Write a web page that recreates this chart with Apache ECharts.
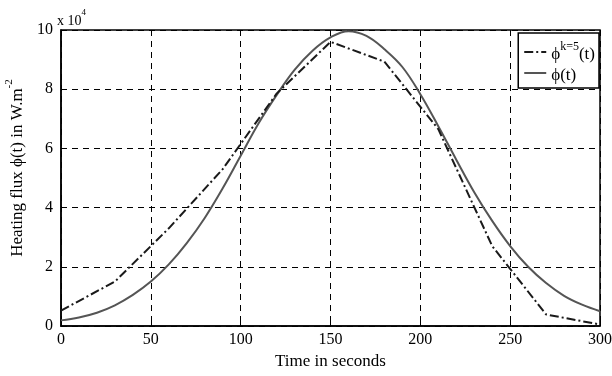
<!DOCTYPE html>
<html>
<head>
<meta charset="utf-8">
<script src="https://cdn.jsdelivr.net/npm/echarts@6/dist/echarts.min.js"></script>
<style>html,body{margin:0;padding:0;background:#fff;}#c{width:612px;height:376px;}</style>
</head>
<body>
<div id="c"></div>
<script>
// Data (heating flux in W.m^-2)
var timeSmooth = [0,10,20,30,40,50,60,70,80,90,100,110,120,130,140,150,160,170,180,190,200,210,220,230,240,250,260,270,280,290,300];
var phiExact = [1900,2900,4500,7000,10500,15000,20800,28000,36500,46500,57500,68500,78000,86500,93000,97500,99600,98000,93500,87500,78300,67500,56200,45200,35500,27000,20000,14500,10200,7200,5000];
var timeK5 = [0,30,60,90,120,150,180,210,240,270,300];
var phiK5 = [5200,15000,33000,53000,78500,96000,89300,66500,27000,3900,500];
var xTicks = [0,50,100,150,200,250,300];
var yTicks = [0,2,4,6,8,10]; // x 10^4

var pairs = function(xs, ys){ return xs.map(function(x,i){ return [x, ys[i]]; }); };
var font = 'Liberation Serif';
var chart = echarts.init(document.getElementById('c'), null, {renderer:'canvas'});
chart.setOption({
  animation:false,
  backgroundColor:'#fff',
  grid:{left:61, right:12, top:30, bottom:50, outerBoundsMode:'none', containLabel:false,
    show:true, borderColor:'#000', borderWidth:1.5, backgroundColor:'transparent'},
  xAxis:{
    type:'value', min:0, max:300, interval:50,
    name:'Time in seconds', nameLocation:'middle', nameGap:25,
    nameTextStyle:{fontFamily:font, fontSize:17, color:'#000'},
    axisLine:{show:true, lineStyle:{color:'#000', width:1.5}},
    axisTick:{show:true, inside:true, length:4, lineStyle:{color:'#000'}},
    axisLabel:{fontFamily:font, fontSize:16, color:'#000', margin:6,
      formatter:function(v){ return xTicks.indexOf(v)>=0 ? String(v) : ''; }},
    splitLine:{show:true, lineStyle:{color:'#000', type:[6,5], width:1}}
  },
  yAxis:{
    type:'value', min:0, max:100000, interval:20000,
    name:'{n|Heating flux ϕ(t) in W.m}{s|-2}', nameLocation:'middle', nameGap:33,
    nameTextStyle:{fontFamily:font, fontSize:17, color:'#000', padding:[0,0,0,20],
      rich:{n:{fontFamily:font, fontSize:17, color:'#000', verticalAlign:'bottom', lineHeight:22},
            s:{fontFamily:font, fontSize:11, color:'#000', verticalAlign:'top', lineHeight:22}}},
    axisLine:{show:true, lineStyle:{color:'#000', width:1.5}},
    axisTick:{show:true, inside:true, length:4, lineStyle:{color:'#000'}},
    axisLabel:{fontFamily:font, fontSize:16, color:'#000', margin:8,
      formatter:function(v){ var t=v/10000; return yTicks.indexOf(t)>=0 ? String(t) : ''; }},
    splitLine:{show:true, lineStyle:{color:'#000', type:[6,5], width:1}}
  },
  legend:{
    orient:'vertical', right:13, top:33, padding:[8,4,4,5], itemGap:4,
    itemWidth:22, itemHeight:10,
    itemStyle:{opacity:0},
    backgroundColor:'#fff', borderColor:'#000', borderWidth:1.5, borderRadius:0,
    textStyle:{fontFamily:font, fontSize:17, color:'#000',
      rich:{a:{fontFamily:font, fontSize:17, color:'#000', verticalAlign:'bottom', lineHeight:22},
            s:{fontFamily:font, fontSize:12, color:'#000', verticalAlign:'top', lineHeight:22}}},
    formatter:function(name){ return name==='k5' ? '{a|ϕ}{s|k=5}{a|(t)}' : '{a|ϕ(t)}'; },
    data:['k5','exact']
  },
  graphic:[{type:'text', left:57, top:8, style:{
    rich:{a:{fontFamily:font, fontSize:14, fill:'#000', verticalAlign:'bottom', lineHeight:20},
          s:{fontFamily:font, fontSize:9, fill:'#000', verticalAlign:'top', lineHeight:20}},
    text:'{a|x 10}{s|4}'}}],
  series:[
    {name:'k5', type:'line', data:pairs(timeK5, phiK5), showSymbol:false, symbol:'none', color:'#1a1a1a',
     lineStyle:{color:'#1a1a1a', width:2, type:[9,3,2,3]}, z:3},
    {name:'exact', type:'line', data:pairs(timeSmooth, phiExact), smooth:0.4, showSymbol:false, symbol:'none', color:'#555',
     lineStyle:{color:'#555', width:2, type:'solid'}, z:2}
  ]
});
</script>
</body>
</html>
